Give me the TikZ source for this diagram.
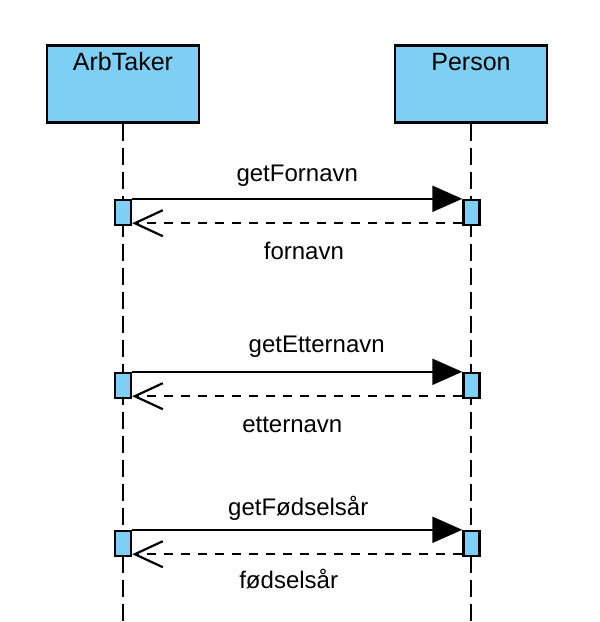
\documentclass[tikz,border=0pt]{standalone}
\usepackage{fontspec}
\setmainfont{Liberation Sans}
\usetikzlibrary{positioning,arrows.meta}
\definecolor{lifeblue}{RGB}{126,207,244}

\begin{document}
\begin{tikzpicture}[
  x=0.5pt, y=-0.5pt,
  font=\fontsize{12}{14}\selectfont,
  obj/.style={rectangle, draw=black, line width=1.2pt, fill=lifeblue,
              minimum width=76pt, minimum height=38.5pt, inner sep=0pt},
  act/.style={rectangle, draw=black, line width=1.2pt, fill=lifeblue,
              minimum width=8pt, minimum height=12.5pt, inner sep=0pt},
  life/.style={draw=black, line width=1.1pt, dash pattern=on 8.5pt off 3.5pt},
  call/.style={-{Triangle[length=15pt,width=13pt]}, draw=black, line width=1.1pt},
  ret/.style={-{Straight Barb[length=14pt,width=13pt]}, draw=black, line width=1.1pt,
              dash pattern=on 4.5pt off 4pt},
  msg/.style={anchor=base, inner sep=0pt}
]
\useasboundingbox (0,0) rectangle (600,622);

\node[obj, label={[anchor=base, yshift=-13.3pt, font=\fontsize{12.5}{14}\selectfont]north:ArbTaker}] (arb) at (123,84) {};
\node[obj, label={[anchor=base, yshift=-13.3pt, font=\fontsize{12.5}{14}\selectfont]north:Person}]   (per) at (471,84) {};

% lifelines
\coordinate (arbend) at (123,622);
\coordinate (perend) at (471,622);
\draw[life] (arb.south) -- (arbend);
\draw[life] (per.south) -- (perend);

\node[act] (a1) at (123,212.5) {};
\node[act] (p1) at (471.5,212.5) {};
\node[act] (a2) at (123,385.5) {};
\node[act] (p2) at (471.5,385.5) {};
\node[act] (a3) at (123,543.5) {};
\node[act] (p3) at (471.5,543.5) {};

\draw[call] (a1.north east) -- node[msg, pos=0.5, yshift=8.5pt] (m1) {getFornavn} (p1.north west);
\draw[ret] ([yshift=1.5pt]p1.south west) -- node[msg, pos=0.48, yshift=-18pt] (r1) {fornavn} ([yshift=1.5pt]a1.south east);

\draw[call] (a2.north east) -- node[msg, pos=0.559, yshift=9.5pt] (m2) {getEtternavn} (p2.north west);
\draw[ret] ([yshift=1.5pt]p2.south west) -- node[msg, pos=0.515, yshift=-18pt] (r2) {etternavn} ([yshift=1.5pt]a2.south east);

\draw[call] (a3.north east) -- node[msg, pos=0.503, yshift=7pt] (m3) {getFødselsår} (p3.north west);
\draw[ret] ([yshift=1.5pt]p3.south west) -- node[msg, pos=0.526, yshift=-17pt] (r3) {fødselsår} ([yshift=1.5pt]a3.south east);
\end{tikzpicture}
\end{document}
